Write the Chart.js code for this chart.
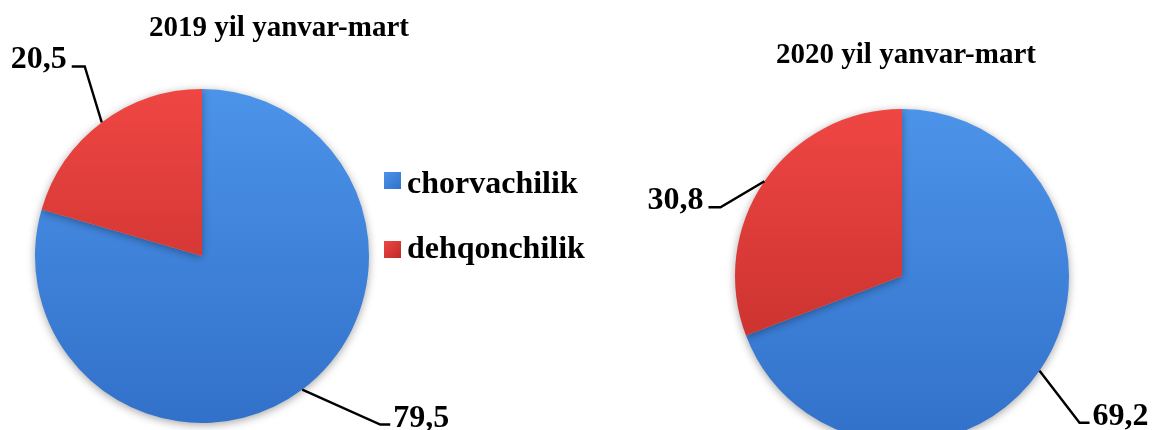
<!DOCTYPE html>
<html>
<head>
<meta charset="utf-8">
<script src="https://cdn.jsdelivr.net/npm/chart.js@4.4.1/dist/chart.umd.min.js"></script>
<style>
  html, body { margin: 0; padding: 0; background: #fff; overflow: hidden; }
  #wrap { position: relative; width: 1155px; height: 460px; }
  canvas { position: absolute; left: 0; top: 0; }
  .txt { position: absolute; font-family: "Liberation Serif", "Times New Roman", serif; font-weight: bold; color: #000; white-space: nowrap; }
  .title { font-size: 29px; line-height: 29px; transform: translateX(-50%); }
  .leg { font-size: 32px; line-height: 32px; }
  .sq { position: absolute; width: 17px; height: 17px; }
</style>
</head>
<body>
<div id="wrap">
  <canvas id="c2019" width="1155" height="460"></canvas>
  <canvas id="c2020" width="1155" height="460"></canvas>
  <div class="txt title" id="t2019" style="left:279px; top:12px;"></div>
  <div class="txt title" id="t2020" style="left:906px; top:39px;"></div>
  <div class="sq" id="sq0" style="left:384px; top:172px;"></div>
  <div class="txt leg" id="lg0" style="left:407px; top:166px;"></div>
  <div class="sq" id="sq1" style="left:384px; top:241px;"></div>
  <div class="txt leg" id="lg1" style="left:407px; top:231px;"></div>
</div>
<script>
// ---- data ----
const categories = ['chorvachilik', 'dehqonchilik'];
const values2019 = [79.5, 20.5];
const values2020 = [69.2, 30.8];
const titles = ['2019 yil yanvar-mart', '2020 yil yanvar-mart'];

// ---- styles ----
const topColors = ['#4c93ea', '#ef4643'];
const bottomColors = ['#3271c9', '#bd2b27'];

document.getElementById('t2019').textContent = titles[0];
document.getElementById('t2020').textContent = titles[1];
categories.forEach((c, i) => {
  document.getElementById('lg' + i).textContent = c;
  document.getElementById('sq' + i).style.background =
    'linear-gradient(135deg,' + topColors[i] + ',' + bottomColors[i] + ')';
});

function fill(ctx) {
  const chart = ctx.chart;
  const a = chart.chartArea;
  if (!a) return topColors[ctx.dataIndex];
  const g = chart.ctx.createLinearGradient(0, a.top, 0, a.bottom);
  g.addColorStop(0, topColors[ctx.dataIndex]);
  g.addColorStop(1, bottomColors[ctx.dataIndex]);
  return g;
}

const shadowPlugin = {
  id: 'shadow',
  beforeDatasetsDraw(chart) {
    const c = chart.ctx;
    c.save();
    c.shadowColor = 'rgba(0,0,0,0.35)';
    c.shadowBlur = 8;
    c.shadowOffsetX = 0;
    c.shadowOffsetY = 2;
  },
  afterDatasetsDraw(chart) {
    chart.ctx.restore();
  }
};

const leaderPlugin = {
  id: 'leader',
  afterDraw(chart, args, opts) {
    const c = chart.ctx;
    const meta = chart.getDatasetMeta(0);
    const vals = chart.data.datasets[0].data;
    meta.data.forEach((arc, i) => {
      const p = arc.getProps(['x', 'y', 'startAngle', 'endAngle', 'outerRadius'], true);
      const mid = (p.startAngle + p.endAngle) / 2;
      const px = p.x + Math.cos(mid) * p.outerRadius;
      const py = p.y + Math.sin(mid) * p.outerRadius;
      const L = opts.leaders[i];
      const ex = px + L.dx, ey = py + L.dy, hx = ex + L.h;
      c.save();
      c.strokeStyle = '#000';
      c.lineWidth = 2.4;
      c.beginPath();
      c.moveTo(px, py);
      c.lineTo(ex, ey);
      c.lineTo(hx, ey);
      c.stroke();
      c.fillStyle = '#000';
      c.font = 'bold 32px "Liberation Serif", "Times New Roman", serif';
      c.textBaseline = 'alphabetic';
      const right = L.h > 0;
      c.textAlign = right ? 'left' : 'right';
      c.fillText(String(vals[i]).replace('.', ','), hx + (right ? 3 : -5), ey + 2);
      c.restore();
    });
  }
};

function makePie(id, values, padding, leaders) {
  return new Chart(document.getElementById(id), {
    type: 'pie',
    data: {
      labels: categories,
      datasets: [{
        data: values,
        backgroundColor: fill,
        borderWidth: 0,
        hoverOffset: 0
      }]
    },
    options: {
      responsive: false,
      animation: false,
      devicePixelRatio: 1,
      layout: { padding: padding },
      plugins: {
        legend: { display: false },
        tooltip: { enabled: false },
        title: { display: false },
        leader: { leaders: leaders }
      }
    },
    plugins: [shadowPlugin, leaderPlugin]
  });
}

makePie('c2019', values2019,
  { left: 35, right: 786, top: 89, bottom: 37 },
  [{ dx: 78, dy: 35, h: 10 }, { dx: -17, dy: -56, h: -13 }]);
makePie('c2020', values2020,
  { left: 735, right: 86, top: 109, bottom: 17 },
  [{ dx: 40, dy: 52, h: 10 }, { dx: -44, dy: 26, h: -12 }]);
</script>
</body>
</html>
